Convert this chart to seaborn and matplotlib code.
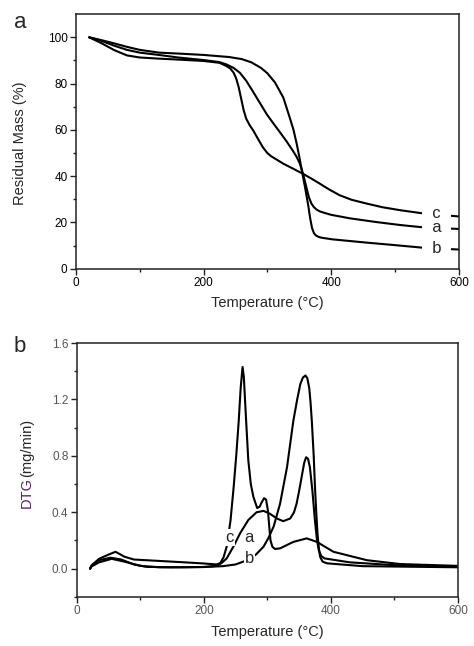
import matplotlib
matplotlib.use("Agg")
import matplotlib.pyplot as plt
import seaborn as sns

# ---- panel a: TG curves (residual mass, %) ----
tg_a_temp = [21, 40, 60, 80, 100, 130, 160, 200, 225, 236, 247, 257, 267, 277, 288, 299, 310,
             320, 330, 340, 346, 351, 356, 361, 365, 369, 373, 377, 382, 390, 400, 429, 470,
             508, 547, 600]
tg_a_mass = [100, 98.5, 96.4, 94.6, 93.4, 92.4, 91.3, 90.2, 89.3, 88.3, 86.8, 84.7, 81.2, 76.8,
             71.8, 66.8, 62.6, 58.9, 55.1, 51, 48.3, 45.4, 41, 35.4, 31, 28.2, 26.6, 25.6,
             24.8, 24.1, 23.3, 21.8, 20.2, 18.9, 17.8, 17.2]

tg_b_temp = [21, 40, 60, 80, 100, 130, 160, 200, 240, 260, 275, 290, 300, 312, 325, 335, 341,
             346, 350, 354, 359, 364, 367, 370, 373, 376, 380, 385, 402, 455, 500, 547, 600]
tg_b_mass = [100, 98.8, 97.4, 95.9, 94.6, 93.4, 93.0, 92.4, 91.5, 90.6, 89.2, 86.8, 84.5, 80.5,
             74, 65.4, 60, 54, 48.5, 42.5, 35.3, 27.5, 22, 17.6, 15.4, 14.4, 13.8, 13.4, 12.7,
             11.3, 10.2, 9.0, 8.3]

tg_c_temp = [21, 40, 60, 80, 100, 130, 160, 200, 225, 236, 242, 247, 251, 255, 259, 263, 267,
             272, 278, 286, 293, 300, 306, 315, 325, 340, 356, 370, 382, 396, 413, 432, 455,
             480, 508, 547, 600]
tg_c_mass = [100, 97.5, 94.5, 92.2, 91.3, 90.8, 90.4, 89.8, 89.0, 87.6, 86.5, 84.8, 82.4, 78.6,
             73.5, 68.4, 64.8, 62.2, 59.7, 55.8, 52.5, 50, 48.6, 47.1, 45.4, 43.3, 41, 38.8,
             36.8, 34.4, 31.8, 29.8, 28.2, 26.6, 25.3, 23.8, 22.6]

# ---- panel b: DTG curves (mg/min) ----
dtg_a_temp = [21, 23, 25, 35, 53, 70, 90, 110, 150, 200, 220, 228, 236, 247, 257, 270, 283,
              294, 304, 315, 325, 336, 342, 346, 350, 354, 358, 361, 364, 367, 371, 375, 378,
              381, 385, 390, 430, 500, 600]
dtg_a_val = [0.0, 0.02, 0.03, 0.06, 0.078, 0.065, 0.03, 0.013, 0.01, 0.012, 0.02, 0.04, 0.073,
             0.16, 0.25, 0.345, 0.40, 0.41, 0.39, 0.356, 0.337, 0.356, 0.40, 0.46, 0.55, 0.65,
             0.75, 0.79, 0.78, 0.72, 0.55, 0.34, 0.21, 0.13, 0.09, 0.073, 0.045, 0.025, 0.014]

dtg_b_temp = [21, 23, 25, 35, 55, 75, 100, 130, 170, 200, 230, 250, 268, 282, 294, 302, 310,
              320, 331, 341, 347, 352, 356, 360, 363, 366, 368, 370, 373, 375, 377, 379, 381,
              383, 387, 394, 450, 600]
dtg_b_val = [0.0, 0.015, 0.02, 0.045, 0.07, 0.05, 0.02, 0.01, 0.01, 0.012, 0.018, 0.03, 0.06,
             0.1, 0.156, 0.22, 0.3, 0.46, 0.72, 1.05, 1.2, 1.31, 1.355, 1.37, 1.35, 1.28, 1.18,
             1.05, 0.8, 0.58, 0.4, 0.25, 0.15, 0.085, 0.05, 0.038, 0.018, 0.01]

dtg_c_temp = [21, 23, 25, 35, 50, 61, 75, 90, 130, 170, 200, 220, 226, 231, 236, 242, 247, 251,
              255, 258, 261, 263, 266, 270, 274, 278, 284, 288, 291, 295, 298, 301, 303, 305,
              308, 312, 320, 341, 362, 378, 404, 457, 509, 600]
dtg_c_val = [0.0, 0.02, 0.03, 0.07, 0.1, 0.12, 0.085, 0.065, 0.055, 0.045, 0.037, 0.03, 0.04,
             0.08, 0.156, 0.34, 0.58, 0.8, 1.05, 1.28, 1.43, 1.36, 1.1, 0.77, 0.6, 0.51, 0.43,
             0.44, 0.47, 0.5, 0.49, 0.41, 0.3, 0.2, 0.155, 0.14, 0.144, 0.19, 0.215, 0.19, 0.12,
             0.06, 0.033, 0.02]

# curve labels: (text, temperature, value)
tg_labels = [("c", 565, 23.9), ("a", 565, 17.7), ("b", 565, 8.9)]
dtg_labels = [("c", 241, 0.22), ("a", 271, 0.22), ("b", 272, 0.07)]

sns.set_style("ticks")
plt.rcParams["font.family"] = ["Liberation Sans", "DejaVu Sans"]

fig = plt.figure(figsize=(4.74, 6.46), dpi=100)
ax1 = fig.add_axes([0.160, 0.584, 0.808, 0.394])
ax2 = fig.add_axes([0.162, 0.076, 0.804, 0.393])

line_kw = dict(color="black", linewidth=1.5, sort=False, estimator=None, legend=False)
for t, m in [(tg_a_temp, tg_a_mass), (tg_b_temp, tg_b_mass), (tg_c_temp, tg_c_mass)]:
    sns.lineplot(x=t, y=m, ax=ax1, **line_kw)
for t, v in [(dtg_a_temp, dtg_a_val), (dtg_b_temp, dtg_b_val), (dtg_c_temp, dtg_c_val)]:
    sns.lineplot(x=t, y=v, ax=ax2, **line_kw)

for txt, x, y in tg_labels:
    ax1.text(x, y, "  " + txt + "  ", fontsize=12, ha="center", va="center",
             bbox=dict(facecolor="white", edgecolor="none", pad=0.5))
for txt, x, y in dtg_labels:
    ax2.text(x, y, txt, fontsize=12, ha="center", va="center",
             bbox=dict(facecolor="white", edgecolor="none", pad=0.5))

ax1.set_xlim(0, 600)
ax1.set_ylim(0, 110)
ax1.set_xticks([0, 200, 400, 600])
ax1.set_xticks([100, 300, 500], minor=True)
ax1.set_yticks([0, 20, 40, 60, 80, 100])
ax1.set_yticks([10, 30, 50, 70, 90], minor=True)

ax2.set_xlim(0, 600)
ax2.set_ylim(-0.2, 1.6)
ax2.set_xticks([0, 200, 400, 600])
ax2.set_xticks([100, 300, 500], minor=True)
ax2.set_yticks([0.0, 0.4, 0.8, 1.2, 1.6])
ax2.set_yticklabels(["0.0", "0.4", "0.8", "1.2", "1.6"])
ax2.set_yticks([-0.2, 0.2, 0.6, 1.0, 1.4], minor=True)

for ax, tick_color in [(ax1, "black"), (ax2, "#555555")]:
    ax.set_xlabel("")
    ax.set_ylabel("")
    for s in ax.spines.values():
        s.set_visible(True)
        s.set_linewidth(1.1)
        s.set_color("#222222")
    ax.tick_params(which="major", direction="out", length=4, width=1.0, labelsize=8.5,
                   labelcolor=tick_color, color="#222222", pad=2)
    ax.tick_params(which="minor", direction="out", length=2.5, width=1.0, color="#222222")
    ax.tick_params(top=False, right=False)

W, H = 474, 646
fig.text(20 / W, 1 - 22 / H, "a", fontsize=16, ha="center", va="center")
fig.text(20 / W, 1 - 346 / H, "b", fontsize=16, ha="center", va="center")

fig.text(267 / W, 1 - 303 / H, "Temperature (°C)", fontsize=10.5, ha="center", va="center")
fig.text(267 / W, 1 - 632 / H, "Temperature (°C)", fontsize=10.5, ha="center", va="center")
fig.text(20 / W, 1 - 143 / H, "Residual Mass (%)", fontsize=10.5, rotation=90,
         ha="center", va="center")
fig.text(27 / W, 1 - 508 / H, "DTG", fontsize=10.5, rotation=90, ha="center", va="bottom",
         color="#5b1f6e")
fig.text(27 / W, 1 - 477 / H, "(mg/min)", fontsize=10.5, rotation=90, ha="center", va="bottom")

fig.savefig("out.png", dpi=100)
